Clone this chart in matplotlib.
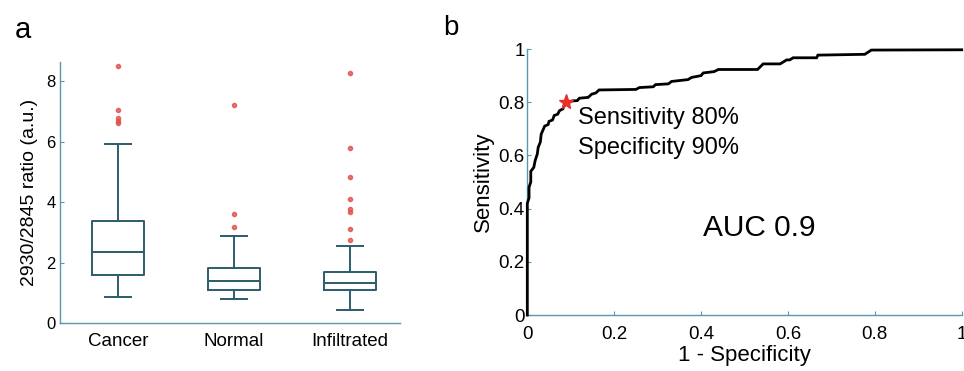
import matplotlib
matplotlib.use("Agg")
import matplotlib.pyplot as plt

plt.rcParams['font.family'] = ['Liberation Sans', 'DejaVu Sans']

# ---------------- Data: panel a (box plot statistics) -------------
groups = ["Cancer", "Normal", "Infiltrated"]
whisker_low = [0.87, 0.79, 0.42]
q1 = [1.58, 1.09, 1.09]
median = [2.36, 1.39, 1.31]
q3 = [3.39, 1.81, 1.68]
whisker_high = [5.94, 2.88, 2.55]
outliers = [
    [8.50, 7.05, 6.77, 6.68, 6.62],
    [7.23, 3.60, 3.18],
    [8.28, 5.80, 4.82, 4.11, 3.79, 3.66, 3.10, 2.76],
]
a_yticks = [0, 2, 4, 6, 8]

# ---------------- Data: panel b (ROC curve vertices) -------------
roc_fpr = [0.000, 0.000, 0.004, 0.004, 0.008, 0.008, 0.015, 0.018, 0.023, 0.025,
           0.030, 0.032, 0.036, 0.040, 0.048, 0.050, 0.058, 0.062, 0.070, 0.074,
           0.082, 0.085, 0.092, 0.105, 0.115, 0.120, 0.140, 0.148, 0.158, 0.165,
           0.250, 0.258, 0.290, 0.295, 0.325, 0.332, 0.370, 0.378, 0.400, 0.405,
           0.430, 0.440, 0.530, 0.543, 0.582, 0.597, 0.604, 0.612, 0.666, 0.669,
           0.777, 0.792, 1.000]
roc_tpr = [0.000, 0.420, 0.440, 0.480, 0.500, 0.540, 0.555, 0.580, 0.605, 0.630,
           0.650, 0.680, 0.695, 0.710, 0.716, 0.728, 0.733, 0.750, 0.755, 0.768,
           0.775, 0.788, 0.800, 0.805, 0.806, 0.815, 0.818, 0.830, 0.835, 0.846,
           0.848, 0.855, 0.858, 0.866, 0.869, 0.878, 0.885, 0.893, 0.900, 0.910,
           0.915, 0.923, 0.923, 0.944, 0.944, 0.959, 0.959, 0.967, 0.967, 0.977,
           0.980, 0.996, 0.997]
op_fpr = [0.09]
op_tpr = [0.80]
b_ticks = [0, 0.2, 0.4, 0.6, 0.8, 1]
b_ticklabels = ["0", "0.2", "0.4", "0.6", "0.8", "1"]

# ---------------- Styling -------------
spine_col = "#5a98ad"
box_col = "#2c5c6b"
out_col = "#e0524c"

fig = plt.figure(figsize=(9.64, 3.71), dpi=100)

# ---------------- Panel a -------------
axa = fig.add_axes([60/964, 48/371, 340/964, 261/371])
stats = []
for i, g in enumerate(groups):
    stats.append(dict(label=g, whislo=whisker_low[i], q1=q1[i], med=median[i],
                      q3=q3[i], whishi=whisker_high[i], fliers=outliers[i]))
axa.bxp(stats, positions=[1, 2, 3], widths=0.45, capwidths=0.22,
        boxprops=dict(color=box_col, linewidth=1.4),
        medianprops=dict(color=box_col, linewidth=1.4),
        whiskerprops=dict(color=box_col, linewidth=1.4),
        capprops=dict(color=box_col, linewidth=1.4),
        flierprops=dict(marker='o', markersize=3.0, markerfacecolor=out_col,
                        markeredgecolor=out_col, alpha=0.8))
axa.set_xlim(0.5, 3.43)
axa.set_ylim(0, 8.64)
axa.set_yticks(a_yticks)
axa.set_yticklabels([str(v) for v in a_yticks])
axa.set_xticks([1, 2, 3])
axa.set_xticklabels(groups, fontsize=13.5)
axa.tick_params(axis='x', length=0, pad=7)
axa.tick_params(axis='y', direction='in', length=3, pad=3, labelsize=12,
                color=spine_col)
for s in ['top', 'right']:
    axa.spines[s].set_visible(False)
for s in ['left', 'bottom']:
    axa.spines[s].set_color(spine_col)
    axa.spines[s].set_linewidth(1.0)
axa.set_ylabel("2930/2845 ratio (a.u.)", fontsize=14, labelpad=6)
fig.text(15/964, 1 - 38/371, "a", fontsize=21, ha='left', va='baseline')

# ---------------- Panel b -------------
axb = fig.add_axes([527.3/964, 56/371, 434.4/964, 266/371])
axb.plot(roc_fpr, roc_tpr, color='black', linewidth=2.0, zorder=3,
         solid_joinstyle='miter', clip_on=False)
axb.plot(op_fpr, op_tpr, marker='*', color='#e8302a', markersize=11,
         linestyle='none', zorder=4, clip_on=False)
axb.set_xlim(0, 1)
axb.set_ylim(0, 1)
axb.set_xticks(b_ticks)
axb.set_xticklabels(b_ticklabels)
axb.set_yticks(b_ticks)
axb.set_yticklabels(b_ticklabels)
axb.tick_params(axis='x', direction='in', length=3, pad=8, labelsize=13.5,
                color=spine_col)
axb.tick_params(axis='y', direction='in', length=3, pad=2, labelsize=13.5,
                color=spine_col)
for s in ['top', 'right']:
    axb.spines[s].set_visible(False)
for s in ['left', 'bottom']:
    axb.spines[s].set_color(spine_col)
    axb.spines[s].set_linewidth(1.0)
axb.set_xlabel("1 - Specificity", fontsize=16, labelpad=1)
axb.set_ylabel("Sensitivity", fontsize=16, labelpad=3)
axb.text(0.117, 0.718, "Sensitivity 80%", fontsize=17, va='baseline', ha='left')
axb.text(0.117, 0.605, "Specificity 90%", fontsize=17, va='baseline', ha='left')
axb.text(0.405, 0.297, "AUC 0.9", fontsize=21.5, va='baseline', ha='left')
fig.text(443/964, 1 - 35/371, "b", fontsize=20, ha='left', va='baseline')

fig.savefig("out.png", dpi=100)
